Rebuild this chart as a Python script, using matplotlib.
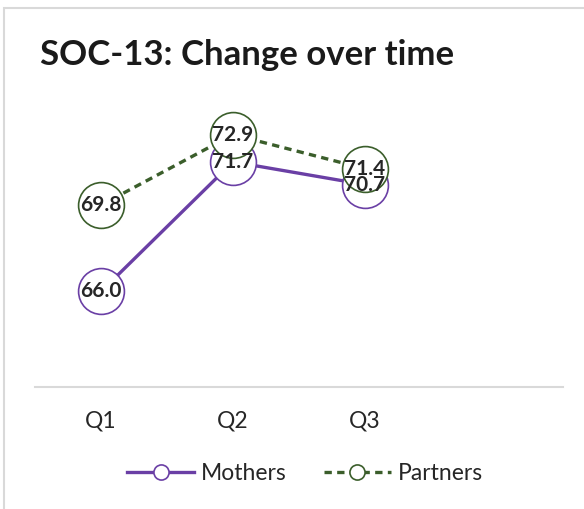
import matplotlib.pyplot as plt
from matplotlib.patches import Rectangle

plt.rcParams['font.family'] = ['Lato', 'DejaVu Sans']

categories = ['Q1', 'Q2', 'Q3', '']
mothers = [66.0, 71.7, 70.7]
partners = [69.8, 72.9, 71.4]

purple = '#6A3FA5'
green = '#3B5E2B'

fig = plt.figure(figsize=(5.84, 5.09), dpi=100)
ax = fig.add_axes([0.06, 0.2397, 0.904, 0.545])

# outer frame (only top and left visible in the reference)
fig.patches.append(Rectangle((4 / 584, -0.1), 1.2, 1 - 8 / 509 + 0.1,
                             transform=fig.transFigure, fill=False,
                             edgecolor='#D9D9D9', linewidth=1.5))

x = range(len(mothers))
ax.plot(x, mothers, color=purple, lw=2.4, marker='o', ms=33, mfc='white',
        mec=purple, mew=1.2, label='Mothers', zorder=3)
ax.plot(x, partners, color=green, lw=2.4, ls=(0, (2.2, 1.6)), marker='o', ms=33,
        mfc='white', mec=green, mew=1.2, label='Partners', zorder=4)

for xi, v in zip(x, mothers):
    ax.text(xi, v, f'{v:.1f}', ha='center', va='center', fontsize=15,
            fontweight='bold', color='#262626', zorder=5)
for xi, v in zip(x, partners):
    ax.text(xi, v, f'{v:.1f}', ha='center', va='center', fontsize=15,
            fontweight='bold', color='#262626', zorder=5)

ax.set_xlim(-0.5, 3.5)
ax.set_ylim(61.8, 74)
ax.set_xticks(range(len(categories)))
ax.set_xticklabels(categories, fontsize=16.5, color='#262626')
ax.tick_params(axis='x', length=0, pad=17)
ax.set_yticks([])
for s in ['top', 'right', 'left']:
    ax.spines[s].set_visible(False)
ax.spines['bottom'].set_color('#D9D9D9')
ax.spines['bottom'].set_linewidth(1.5)

fig.text(40 / 584, 1 - 55 / 509, 'SOC-13: Change over time', fontsize=25,
         fontweight='bold', color='#1A1A1A', va='center', ha='left')

leg = fig.legend(loc='center', bbox_to_anchor=(305 / 584, 1 - 474 / 509), ncol=2,
                 frameon=False, fontsize=16.5, handlelength=2.95, markerscale=0.33,
                 columnspacing=1.6, handletextpad=0.3)
for t in leg.get_texts():
    t.set_color('#262626')

fig.savefig('out.png', dpi=100)
